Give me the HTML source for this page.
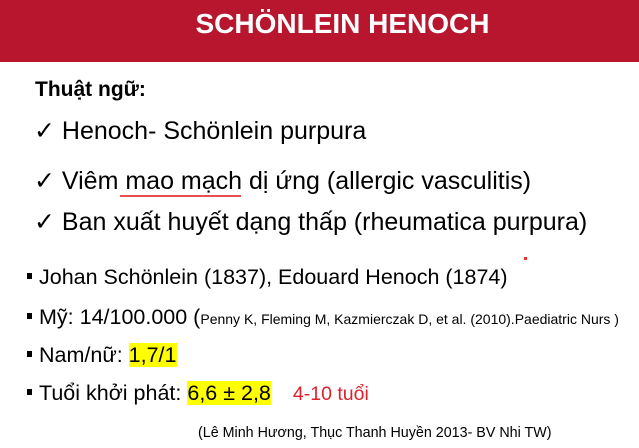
<!DOCTYPE html>
<html><head><meta charset="utf-8"><style>
body{margin:0;width:639px;height:445px;overflow:hidden;background:#fff;font-family:"Liberation Sans","DejaVu Sans",sans-serif;position:relative}
.a{position:absolute;white-space:nowrap;line-height:30px;height:30px;color:#000}
.hl{background:#ffff00}
.sq{display:inline-block;width:5px;height:6px;background:#000;margin-right:7px;vertical-align:middle;position:relative;top:-2px}
</style></head><body>
<div style="position:absolute;left:0;top:0;width:639px;height:62px;background:#b8152f"></div>
<div class="a" style="left:0;width:639px;top:9px;text-align:center;color:#fff;font-weight:bold;font-size:28px;padding-left:46px;box-sizing:border-box">SCHÖNLEIN HENOCH</div>
<div class="a" style="left:35px;top:75px;font-weight:bold;font-size:21px">Thuật ngữ:</div>
<div class="a" style="left:34px;top:116px;font-size:25px">✓ Henoch- Schönlein purpura</div>
<div class="a" style="left:34px;top:166px;font-size:25px">✓ Viêm mao mạch dị ứng (allergic vasculitis)</div>
<div style="position:absolute;left:120px;top:195px;width:121px;height:2px;background:#e8504f"></div>
<div class="a" style="left:34px;top:207px;font-size:25px">✓ Ban xuất huyết dạng thấp (rheumatica purpura)</div>
<div style="position:absolute;left:524px;top:257px;width:3px;height:3px;background:#e33"></div>
<div class="a" style="left:27px;top:262px;font-size:21.5px"><span class="sq"></span>Johan Schönlein (1837), Edouard Henoch (1874)</div>
<div class="a" style="left:27px;top:302px;font-size:21.5px"><span class="sq"></span>Mỹ: 14/100.000 (<span style="font-size:14px">Penny K, Fleming M, Kazmierczak D, et al. (2010).Paediatric Nurs )</span></div>
<div class="a" style="left:27px;top:340px;font-size:21.5px"><span class="sq"></span>Nam/nữ: <span class="hl">1,7/1</span></div>
<div class="a" style="left:27px;top:378px;font-size:21.5px"><span class="sq"></span>Tuổi khởi phát: <span class="hl">6,6 ± 2,8</span><span style="color:#e0202a;font-size:19.5px;margin-left:22px">4-10 tuổi</span></div>
<div class="a" style="left:198px;top:418px;font-size:14.3px">(Lê Minh Hương, Thục Thanh Huyền 2013- BV Nhi TW)</div>
</body></html>
